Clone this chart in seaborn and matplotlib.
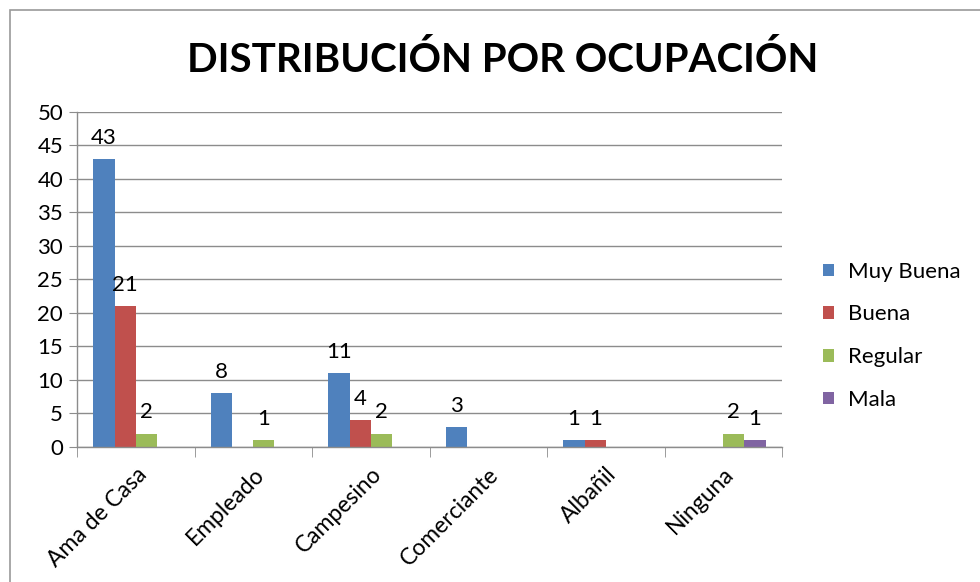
import pandas as pd
import matplotlib.pyplot as plt
import seaborn as sns
from matplotlib.patches import Rectangle

# Data
ocupaciones = ['Ama de Casa', 'Empleado', 'Campesino', 'Comerciante', 'Albañil', 'Ninguna']
calidades = ['Muy Buena', 'Buena', 'Regular', 'Mala']
muy_buena = [43, 8, 11, 3, 1, 0]
buena = [21, 0, 4, 0, 1, 0]
regular = [2, 1, 2, 0, 0, 2]
mala = [0, 0, 0, 0, 0, 1]
colores = ['#4F81BD', '#C0504D', '#9BBB59', '#8064A2']

series = [muy_buena, buena, regular, mala]
rows = []
for cal, vals in zip(calidades, series):
    for occ, v in zip(ocupaciones, vals):
        rows.append({'ocupacion': occ, 'calidad': cal, 'valor': v})
df = pd.DataFrame(rows)

sns.set_style('white')
plt.rcParams['font.family'] = ['Lato', 'DejaVu Sans']
plt.rcParams['text.color'] = 'black'
plt.rcParams['xtick.color'] = 'black'
plt.rcParams['ytick.color'] = 'black'

fig = plt.figure(figsize=(9.8, 5.82), dpi=100)
ax = fig.add_axes([0.0786, 0.232, 0.7194, 0.5756])

sns.barplot(data=df, x='ocupacion', y='valor', hue='calidad', order=ocupaciones,
            hue_order=calidades, palette=colores, width=0.72, saturation=1,
            linewidth=0, ax=ax)

# data labels, only for non-zero bars
for cont, vals in zip(ax.containers, series):
    labs = [str(v) if v > 0 else '' for v in vals]
    ax.bar_label(cont, labels=labs, padding=8, fontsize=16)

ax.set_ylim(0, 50)
ax.set_yticks(range(0, 51, 5))
ax.set_xlim(-0.5, len(ocupaciones) - 0.5)
ax.yaxis.grid(True, color='#8c8c8c', linewidth=1)
ax.set_axisbelow(True)
for s in ['top', 'right']:
    ax.spines[s].set_visible(False)
for s in ['left', 'bottom']:
    ax.spines[s].set_color('#8c8c8c')
    ax.spines[s].set_linewidth(1)

ax.set_xlabel('')
ax.set_ylabel('')
ax.tick_params(axis='y', labelsize=16, length=6, color='#8c8c8c', direction='out', left=True, pad=4)
ax.set_xticks(range(len(ocupaciones)))
ax.set_xticklabels(ocupaciones, rotation=45, ha='right', rotation_mode='anchor', fontsize=16.5)
ax.tick_params(axis='x', which='major', length=0, pad=12)
ax.set_xticks([i - 0.5 for i in range(len(ocupaciones) + 1)], minor=True)
ax.tick_params(axis='x', which='minor', length=7, color='#8c8c8c', direction='out', bottom=True)

ax.legend(loc='center left', bbox_to_anchor=(1.03, 0.332), frameon=False, fontsize=16,
          handlelength=0.5, handleheight=0.5, handletextpad=0.6, labelspacing=1.02)

fig.suptitle('DISTRIBUCIÓN POR OCUPACIÓN', fontsize=29, fontweight='bold', x=0.513, y=0.93,
             color='black')

# chart border
fig.patches.append(Rectangle((10 / 980, -0.1), 1.2, 1.1 - 10 / 582, transform=fig.transFigure,
                             fill=False, edgecolor='#9a9a9a', linewidth=1.2, clip_on=False))

fig.savefig('out.png', dpi=100)
